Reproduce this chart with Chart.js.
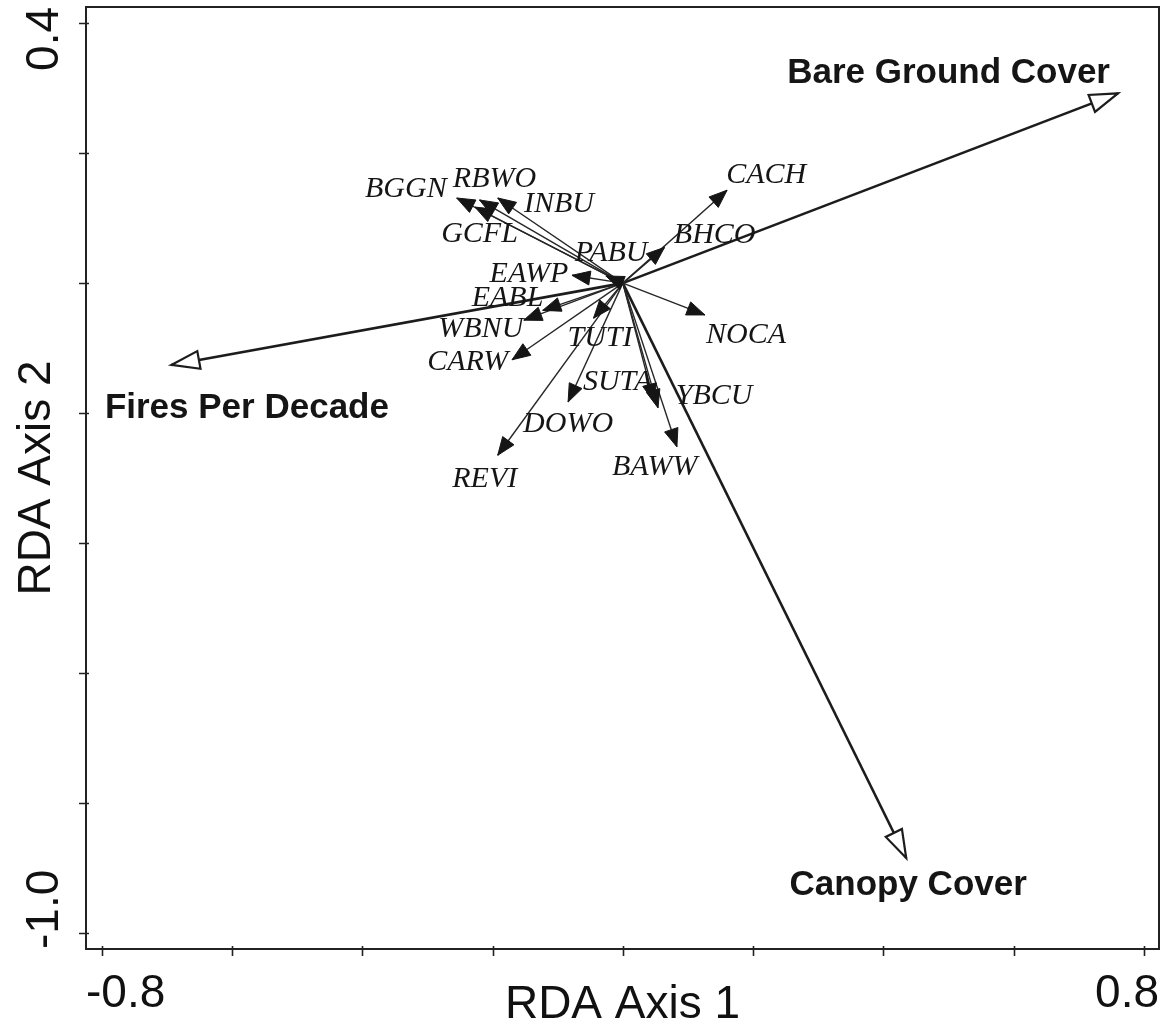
<!DOCTYPE html>
<html>
<head>
<meta charset="utf-8">
<script src="https://cdn.jsdelivr.net/npm/chart.js@4/dist/chart.umd.min.js"></script>
<style>
  html, body { margin: 0; padding: 0; background: #ffffff; }
  #wrap { width: 1165px; height: 1026px; position: relative; }
</style>
</head>
<body>
<div id="wrap"><canvas id="c"></canvas></div>
<script>
// ---- Data (RDA biplot scores) ----
const speciesNames = ['BGGN','GCFL','RBWO','INBU','PABU','EAWP','EABL','WBNU','CARW','TUTI','DOWO','REVI','SUTA','YBCU','BAWW','NOCA','BHCO','CACH'];
const speciesX     = [-0.255,-0.227,-0.220,-0.192,-0.026,-0.078,-0.123,-0.152,-0.170,-0.045,-0.084,-0.192, 0.048, 0.054, 0.083, 0.126, 0.064, 0.160];
const speciesY     = [ 0.131, 0.117, 0.128, 0.131, 0.011, 0.012,-0.042,-0.057,-0.118,-0.054,-0.183,-0.265,-0.183,-0.192,-0.252,-0.049, 0.055, 0.143];
const speciesLabelX = [-0.333,-0.220,-0.197,-0.098,-0.018,-0.144,-0.177,-0.218,-0.238,-0.035,-0.084,-0.212,-0.008, 0.140, 0.049, 0.189, 0.141, 0.220];
const speciesLabelY = [ 0.148, 0.078, 0.163, 0.125, 0.049, 0.017,-0.020,-0.068,-0.118,-0.082,-0.214,-0.298,-0.149,-0.171,-0.280,-0.077, 0.077, 0.169];

const envNames  = ['Bare Ground Cover','Fires Per Decade','Canopy Cover'];
const envX      = [ 0.760,-0.693, 0.435];
const envY      = [ 0.292,-0.126,-0.885];
const envLabelX = [ 0.500,-0.577, 0.438];
const envLabelY = [ 0.328,-0.188,-0.922];

const xTicks = [-0.8,-0.6,-0.4,-0.2,0,0.2,0.4,0.6,0.8];
const yTicks = [0.4,0.2,0,-0.2,-0.4,-0.6,-0.8,-1.0];
const xTickLabels = {'-0.8':'-0.8','0.8':'0.8'};
const yTickLabels = {'0.4':'0.4','-1':'-1.0'};
const xTitle = 'RDA Axis 1';
const yTitle = 'RDA Axis 2';
const xRange = [-0.824, 0.823];
const yRange = [-1.025, 0.425];

// ---- Styles ----
const INK = '#1c1c1c';
const datasets = [];
speciesNames.forEach((n,i) => {
  datasets.push({
    label: n, kind: 'species', idx: i,
    data: [{x:0,y:0},{x:speciesX[i], y:speciesY[i]}],
    showLine: true, borderColor: '#262626', borderWidth: 1.4,
    pointRadius: 0, pointHoverRadius: 0, fill: false
  });
});
envNames.forEach((n,i) => {
  datasets.push({
    label: n, kind: 'env', idx: i,
    data: [{x:0,y:0},{x:envX[i], y:envY[i]}],
    showLine: true, borderColor: INK, borderWidth: 2.6,
    pointRadius: 0, pointHoverRadius: 0, fill: false
  });
});

function arrowHead(ctx, x0, y0, x1, y1, len, half, filled) {
  const a = Math.atan2(y1 - y0, x1 - x0);
  const bx = x1 - len * Math.cos(a), by = y1 - len * Math.sin(a);
  const px = -Math.sin(a) * half, py = Math.cos(a) * half;
  ctx.beginPath();
  ctx.moveTo(x1, y1);
  ctx.lineTo(bx + px, by + py);
  ctx.lineTo(bx - px, by - py);
  ctx.closePath();
  if (filled) {
    ctx.fillStyle = '#151515'; ctx.fill();
    ctx.strokeStyle = '#151515'; ctx.lineWidth = 1; ctx.stroke();
  } else {
    ctx.fillStyle = '#ffffff'; ctx.fill();
    ctx.strokeStyle = INK; ctx.lineWidth = 2.2; ctx.lineJoin = 'miter'; ctx.stroke();
  }
}

const biplotPlugin = {
  id: 'biplot',
  afterDatasetsDraw(chart) {
    const ctx = chart.ctx;
    const xs = chart.scales.x, ys = chart.scales.y;
    const ca = chart.chartArea;
    ctx.save();
    // arrow heads
    chart.data.datasets.forEach((ds, di) => {
      const meta = chart.getDatasetMeta(di);
      const p0 = meta.data[0], p1 = meta.data[1];
      if (ds.kind === 'species') arrowHead(ctx, p0.x, p0.y, p1.x, p1.y, 18, 7, true);
      else arrowHead(ctx, p0.x, p0.y, p1.x, p1.y, 28, 9, false);
    });
    // species labels
    ctx.fillStyle = '#151515';
    ctx.font = 'italic 30px "Liberation Serif", "Times New Roman", serif';
    ctx.textAlign = 'center'; ctx.textBaseline = 'alphabetic';
    speciesNames.forEach((n,i) => {
      const px = xs.getPixelForValue(speciesLabelX[i]);
      const py = ys.getPixelForValue(speciesLabelY[i]);
      ctx.fillText(n, px, py + 10);
    });
    // environmental labels
    ctx.font = 'bold 35px "Liberation Sans", Arial, sans-serif';
    envNames.forEach((n,i) => {
      const px = xs.getPixelForValue(envLabelX[i]);
      const py = ys.getPixelForValue(envLabelY[i]);
      ctx.fillText(n, px, py + 12.5);
    });
    // frame
    ctx.strokeStyle = '#222'; ctx.lineWidth = 2;
    ctx.strokeRect(ca.left, ca.top, ca.right - ca.left, ca.bottom - ca.top);
    // tick marks
    ctx.lineWidth = 1.6;
    ctx.beginPath();
    xTicks.forEach(v => {
      const px = Math.round(xs.getPixelForValue(v)) + 0.5;
      ctx.moveTo(px, ca.bottom - 3); ctx.lineTo(px, ca.bottom + 7);
    });
    yTicks.forEach(v => {
      const py = Math.round(ys.getPixelForValue(v)) + 0.5;
      ctx.moveTo(ca.left - 7, py); ctx.lineTo(ca.left + 3, py);
    });
    ctx.stroke();
    // tick labels (kept inside the frame extent)
    ctx.fillStyle = '#111';
    ctx.font = '46px "Liberation Sans", Arial, sans-serif';
    ctx.textAlign = 'left'; ctx.textBaseline = 'alphabetic';
    xTicks.forEach(v => {
      const t = xTickLabels[String(v)];
      if (!t) return;
      const w = ctx.measureText(t).width;
      let left = xs.getPixelForValue(v) - w / 2;
      left = Math.max(ca.left, Math.min(ca.right - w, left));
      ctx.fillText(t, left, 1007);
    });
    yTicks.forEach(v => {
      const t = yTickLabels[String(v)];
      if (!t) return;
      const w = ctx.measureText(t).width;
      let top = ys.getPixelForValue(v) - w / 2;
      top = Math.max(ca.top, Math.min(ca.bottom - w, top));
      ctx.save();
      ctx.translate(58, top + w);
      ctx.rotate(-Math.PI / 2);
      ctx.fillText(t, 0, 0);
      ctx.restore();
    });
    // axis titles
    ctx.textAlign = 'center';
    ctx.fillText(xTitle, (ca.left + ca.right) / 2, 1018);
    ctx.save();
    ctx.translate(50, (ca.top + ca.bottom) / 2);
    ctx.rotate(-Math.PI / 2);
    ctx.fillText(yTitle, 0, 0);
    ctx.restore();
    ctx.restore();
  }
};

new Chart(document.getElementById('c'), {
  type: 'scatter',
  data: { datasets },
  options: {
    responsive: true, maintainAspectRatio: false, animation: false,
    layout: { padding: { left: 86, top: 7, right: 6, bottom: 77 } },
    plugins: { legend: { display: false }, tooltip: { enabled: false } },
    scales: {
      x: { type: 'linear', min: xRange[0], max: xRange[1], display: false },
      y: { type: 'linear', min: yRange[0], max: yRange[1], display: false }
    }
  },
  plugins: [biplotPlugin]
});
</script>
</body>
</html>
